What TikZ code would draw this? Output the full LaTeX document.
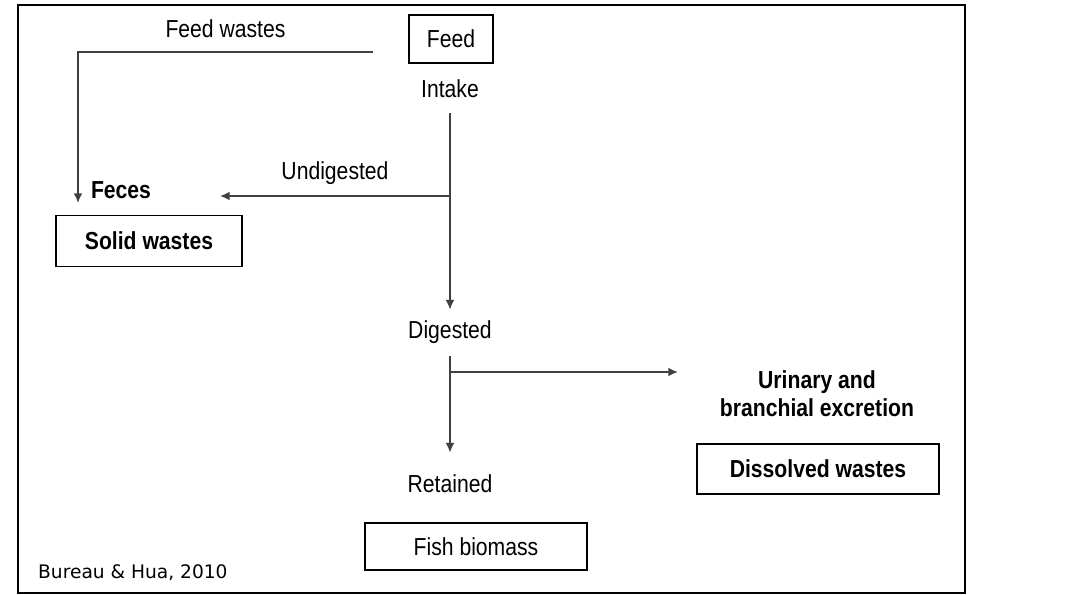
\documentclass[tikz,border=0pt]{standalone}
\usepackage{fontspec}
\setmainfont[FakeStretch=0.86]{Liberation Sans}
\newfontfamily\sourcefont{DejaVu Sans}
\newcommand\mainsize{\fontsize{14}{16}\selectfont}
\usetikzlibrary{arrows.meta}

\begin{document}
\begin{tikzpicture}[
    box/.style={draw=black, line width=1pt, inner sep=0pt, font=\mainsize},
    lbl/.style={inner sep=0pt, text height=0.36cm, text depth=0.1cm, font=\mainsize},
    boldlbl/.style={lbl, font=\mainsize\bfseries},
    flow/.style={draw=black!75, line width=0.9pt, -{Latex[length=5.5pt,width=5pt]}}
]

    \useasboundingbox (0, 0) rectangle (21.32, 11.9);
    \draw[line width=0.9pt] (0.36, 0.04) rectangle (19.3, 11.8);

    % Make the boxes
    \node[box, minimum width=1.68cm, minimum height=0.96cm] (feed) at (9.02, 11.12) {Feed};
    \node[box, minimum width=3.72cm, minimum height=1.02cm, font=\mainsize\bfseries] (solid) at (2.98, 7.08) {Solid wastes};
    \node[box, minimum width=4.44cm, minimum height=0.94cm] (fish) at (9.52, 0.97) {Fish biomass};
    \node[box, minimum width=4.84cm, minimum height=1.0cm, font=\mainsize\bfseries] (dissolved) at (16.36, 2.52) {Dissolved wastes};

    % Make the stage labels
    \node[lbl] (intake) at (9.0, 10.08) {Intake};
    \node[lbl] (digested) at (9.0, 5.26) {Digested};
    \node[lbl] (retained) at (9.0, 2.18) {Retained};
    \node[boldlbl] (feces) at (2.42, 8.06) {Feces};
    \node[align=center, font=\mainsize\bfseries] (excretion) at (16.34, 4.02) {Urinary and\\branchial excretion};

    % Free ends of the arrows
    \coordinate (fwstart) at (7.46, 10.86);
    \coordinate (fwcorner) at (1.56, 10.86);
    \coordinate (fwtip) at (1.56, 7.84);
    \coordinate (undig) at (9.0, 7.98);
    \coordinate (undigtip) at (4.4, 7.98);
    \coordinate (exc) at (9.0, 4.46);
    \coordinate (exctip) at (13.56, 4.46);

    \draw[flow] (fwstart) -- node[lbl, above=0.17cm] {Feed wastes} (fwcorner) -- (fwtip);
    \draw[flow, shorten <=0.21cm, shorten >=0.21cm] (intake) -- (digested);
    \draw[flow] (undig) -- node[lbl, above=0.21cm] {Undigested} (undigtip);
    \draw[flow, shorten <=0.25cm, shorten >=0.43cm] (digested) -- (retained);
    \draw[flow] (exc) -- (exctip);

    \node[anchor=west, font=\sourcefont\fontsize{10.6}{12}\selectfont] (source) at (0.64, 0.44) {Bureau \& Hua, 2010};

\end{tikzpicture}
\end{document}
